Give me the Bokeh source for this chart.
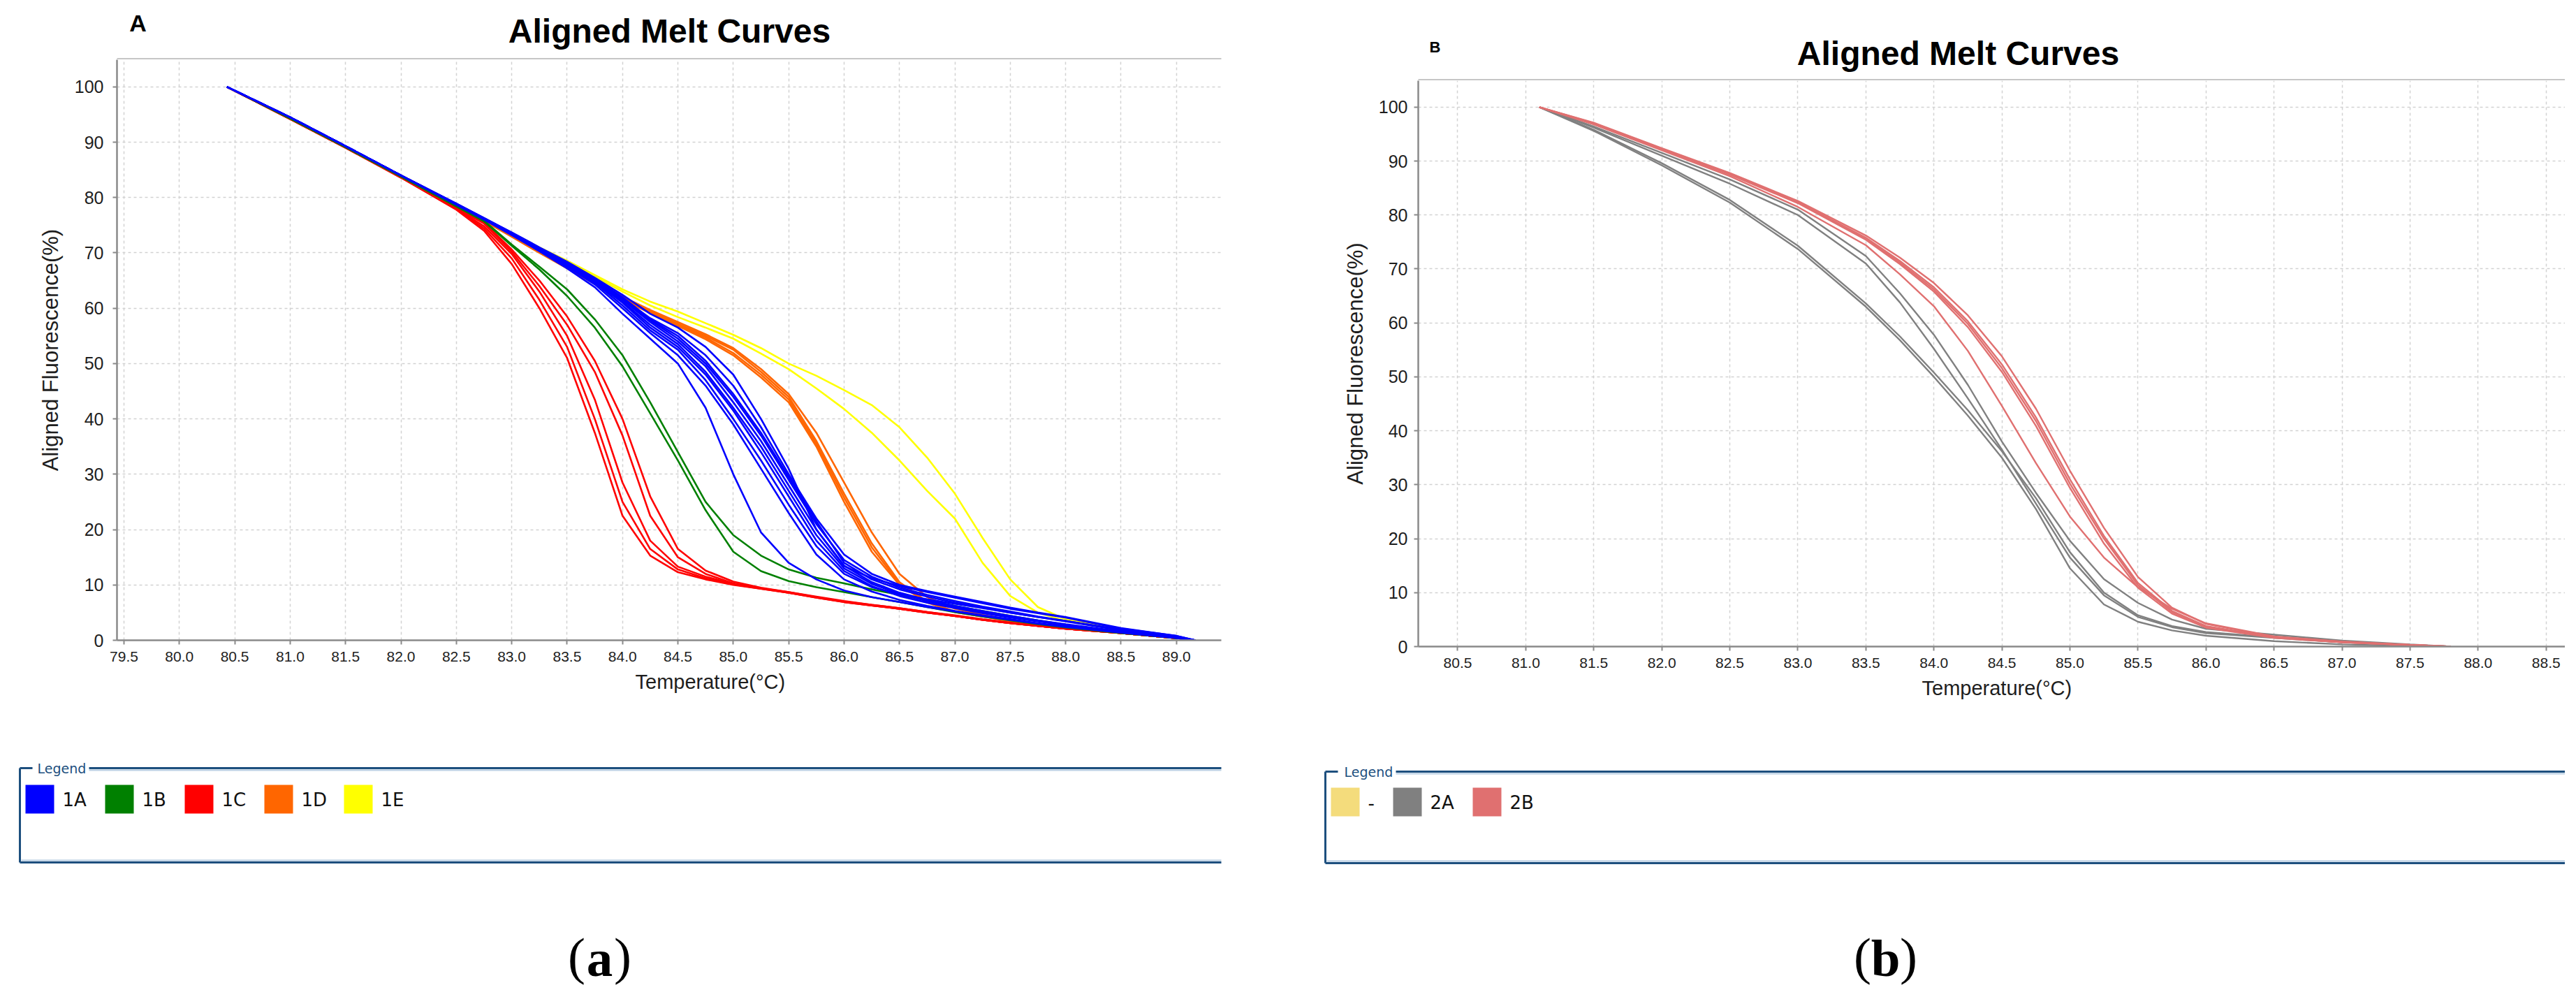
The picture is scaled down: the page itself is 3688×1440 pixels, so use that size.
from bokeh.plotting import figure
from bokeh.models import ColumnDataSource, Range1d, FixedTicker, PrintfTickFormatter, Title
from bokeh.layouts import row, column
from bokeh.core.properties import value
from bokeh.embed import file_html
from bokeh.resources import INLINE

# ---------------- panel A data (temperature grid + aligned fluorescence, %) ----------------
temp_a = [80.43, 81.0, 81.5, 82.0, 82.5, 82.75, 83.0, 83.25, 83.5, 83.75, 84.0, 84.25, 84.5, 84.75,
          85.0, 85.25, 85.5, 85.75, 86.0, 86.25, 86.5, 86.75, 87.0, 87.25, 87.5, 87.75, 88.0, 88.5,
          89.0, 89.17]

curves_1a = [
    [100, 94.5, 89.3, 84.0, 78.7, 76.0, 73.2, 70.3, 67.2, 63.8, 59.0, 54.5, 50.0, 42.0, 30.0, 19.5, 14.0, 11.0, 9.0, 7.8, 6.9, 6.0, 5.2, 4.4, 3.7, 3.0, 2.4, 1.4, 0.4, 0],
    [100, 94.5, 89.3, 84.0, 78.7, 76.1, 73.3, 70.5, 67.5, 64.3, 60.0, 55.5, 51.5, 46.0, 39.0, 31.0, 23.0, 15.5, 11.0, 8.8, 7.3, 6.2, 5.3, 4.5, 3.8, 3.1, 2.5, 1.4, 0.4, 0],
    [100, 94.5, 89.3, 84.0, 78.8, 76.2, 73.5, 70.7, 67.8, 64.7, 61.0, 56.5, 53.0, 48.0, 41.5, 34.0, 26.0, 18.0, 12.5, 9.8, 8.0, 6.8, 5.8, 4.9, 4.1, 3.4, 2.7, 1.5, 0.5, 0],
    [100, 94.5, 89.3, 84.0, 78.8, 76.2, 73.5, 70.8, 68.0, 65.0, 61.5, 57.5, 54.0, 49.5, 43.0, 36.0, 28.0, 20.0, 13.5, 10.5, 8.6, 7.3, 6.2, 5.3, 4.4, 3.6, 2.9, 1.6, 0.5, 0],
    [100, 94.5, 89.3, 84.0, 78.8, 76.3, 73.6, 70.9, 68.2, 65.3, 62.0, 58.0, 55.0, 50.5, 44.5, 37.5, 29.5, 21.5, 14.0, 11.0, 9.2, 7.9, 6.8, 5.9, 5.0, 4.2, 3.4, 1.8, 0.6, 0],
    [100, 94.5, 89.3, 84.0, 78.9, 76.3, 73.7, 71.0, 68.4, 65.5, 62.4, 59.0, 56.5, 53.0, 48.0, 40.0, 31.0, 20.0, 13.4, 11.2, 9.8, 8.7, 7.7, 6.7, 5.7, 4.9, 4.1, 2.1, 0.8, 0],
    [100, 94.5, 89.3, 84.0, 78.8, 76.2, 73.4, 70.6, 67.7, 64.6, 60.5, 56.0, 52.5, 47.0, 40.0, 32.5, 24.5, 17.0, 12.0, 9.6, 8.3, 7.4, 6.6, 5.8, 5.0, 4.2, 3.5, 1.9, 0.6, 0],
    [100, 94.5, 89.3, 84.0, 78.9, 76.3, 73.6, 70.9, 68.3, 65.4, 61.8, 58.2, 55.5, 51.5, 46.0, 38.5, 30.0, 22.0, 15.5, 12.0, 10.0, 8.9, 7.9, 6.9, 5.9, 5.0, 4.2, 2.2, 0.8, 0],
    [100, 94.5, 89.3, 84.0, 78.8, 76.2, 73.5, 70.7, 67.9, 64.9, 61.2, 57.0, 53.5, 48.5, 42.0, 35.0, 27.0, 19.0, 13.0, 10.2, 8.4, 7.1, 6.0, 5.1, 4.3, 3.5, 2.8, 1.5, 0.5, 0],
    [100, 94.5, 89.3, 84.0, 78.8, 76.2, 73.5, 70.8, 68.0, 65.1, 61.6, 57.8, 54.5, 50.0, 44.0, 37.0, 29.0, 21.0, 14.5, 11.5, 9.5, 8.2, 7.1, 6.1, 5.2, 4.3, 3.5, 1.9, 0.6, 0],
]
curves_1b = [
    [100, 94.3, 89.1, 83.8, 78.4, 75.8, 71.5, 67.5, 63.4, 58.0, 51.5, 43.0, 34.0, 25.0, 19.0, 15.3, 12.8, 11.3, 10.3, 9.2, 8.2, 7.2, 6.2, 5.3, 4.4, 3.6, 2.8, 1.5, 0.4, 0],
    [100, 94.3, 89.1, 83.8, 78.4, 75.7, 71.3, 67.0, 62.2, 56.5, 49.5, 41.0, 32.5, 23.5, 16.0, 12.5, 10.7, 9.6, 8.7, 7.8, 6.9, 6.0, 5.1, 4.3, 3.6, 2.9, 2.3, 1.3, 0.4, 0],
]
curves_1c = [
    [100, 94.2, 89.0, 83.6, 77.8, 74.0, 68.0, 60.0, 51.0, 37.5, 22.5, 15.3, 12.3, 11.0, 10.0, 9.3, 8.6, 7.7, 6.9, 6.3, 5.7, 5.0, 4.4, 3.7, 3.1, 2.6, 2.1, 1.3, 0.4, 0],
    [100, 94.2, 89.0, 83.6, 77.9, 74.4, 69.0, 61.5, 53.0, 40.0, 25.0, 16.5, 12.8, 11.2, 10.1, 9.3, 8.6, 7.7, 6.9, 6.3, 5.7, 5.0, 4.4, 3.7, 3.1, 2.6, 2.1, 1.3, 0.4, 0],
    [100, 94.2, 89.0, 83.7, 78.0, 74.8, 69.8, 63.0, 55.0, 43.5, 28.5, 18.0, 13.3, 11.5, 10.2, 9.4, 8.6, 7.8, 7.0, 6.3, 5.7, 5.0, 4.4, 3.7, 3.1, 2.6, 2.1, 1.3, 0.4, 0],
    [100, 94.2, 89.0, 83.7, 78.1, 75.3, 70.2, 64.0, 57.0, 48.5, 37.0, 22.5, 15.0, 12.0, 10.3, 9.4, 8.7, 7.8, 7.0, 6.4, 5.8, 5.1, 4.4, 3.7, 3.1, 2.6, 2.1, 1.3, 0.4, 0],
    [100, 94.2, 89.0, 83.7, 78.1, 75.5, 70.6, 65.0, 58.5, 50.5, 40.0, 26.0, 16.5, 12.6, 10.6, 9.5, 8.7, 7.9, 7.1, 6.4, 5.8, 5.1, 4.5, 3.8, 3.2, 2.6, 2.1, 1.3, 0.4, 0],
]
curves_1d = [
    [100, 94.3, 89.1, 83.8, 78.5, 75.8, 73.0, 70.2, 67.4, 64.6, 61.9, 59.5, 57.2, 55.0, 52.5, 48.5, 44.0, 36.0, 26.5, 17.5, 10.5, 7.0, 5.2, 4.4, 3.6, 2.9, 2.3, 1.3, 0.4, 0],
    [100, 94.3, 89.1, 83.8, 78.5, 75.8, 72.9, 70.0, 67.2, 64.4, 61.6, 59.1, 56.8, 54.4, 51.5, 47.5, 43.0, 35.0, 25.0, 16.0, 10.0, 6.8, 5.1, 4.3, 3.5, 2.9, 2.3, 1.3, 0.4, 0],
    [100, 94.3, 89.1, 83.8, 78.5, 75.9, 73.1, 70.3, 67.6, 64.8, 62.1, 59.7, 57.5, 55.3, 52.8, 49.0, 44.5, 37.5, 28.5, 19.5, 12.0, 7.8, 5.7, 4.6, 3.7, 3.0, 2.4, 1.3, 0.4, 0],
    [100, 94.3, 89.1, 83.8, 78.5, 75.8, 73.0, 70.1, 67.3, 64.5, 61.7, 59.3, 57.0, 54.7, 51.9, 48.0, 43.5, 35.5, 25.8, 16.8, 10.2, 6.9, 5.1, 4.3, 3.5, 2.9, 2.3, 1.3, 0.4, 0],
]
curves_1e = [
    [100, 94.3, 89.2, 84.0, 78.8, 76.2, 73.6, 71.0, 68.6, 66.0, 63.4, 61.2, 59.4, 57.3, 55.2, 52.8, 50.0, 47.8, 45.2, 42.5, 38.5, 33.0, 26.5, 18.5, 11.0, 6.0, 3.8, 1.9, 0.5, 0],
    [100, 94.3, 89.2, 84.0, 78.8, 76.2, 73.5, 70.9, 68.4, 65.7, 63.0, 60.5, 58.4, 56.5, 54.5, 51.8, 49.0, 45.5, 41.8, 37.5, 32.5, 27.0, 22.0, 14.0, 8.0, 5.0, 3.5, 1.8, 0.5, 0],
]

# ---------------- panel B data ----------------
temp_b = [81.1, 81.5, 82.0, 82.5, 83.0, 83.5, 83.75, 84.0, 84.25, 84.5, 84.75, 85.0, 85.25, 85.5,
          85.75, 86.0, 86.5, 87.0, 87.5, 87.8]

curves_2a = [
    [100, 96.4, 91.5, 86.6, 81.0, 72.4, 65.5, 57.8, 48.5, 38.0, 28.5, 19.6, 12.5, 8.1, 5.0, 3.3, 2.2, 1.1, 0.4, 0],
    [100, 96.2, 91.0, 85.8, 80.0, 71.0, 63.8, 55.2, 46.0, 36.5, 26.5, 16.5, 9.5, 5.5, 3.6, 2.5, 1.6, 0.8, 0.3, 0],
    [100, 95.6, 89.2, 82.3, 73.7, 63.0, 56.8, 50.0, 42.8, 35.0, 25.5, 14.5, 7.8, 4.6, 3.0, 2.0, 1.0, 0.4, 0.1, 0],
    [100, 95.8, 89.6, 82.8, 74.3, 63.6, 57.5, 50.8, 43.8, 36.2, 27.5, 17.5, 10.0, 5.8, 3.8, 2.7, 1.7, 0.9, 0.3, 0],
]
curves_2b = [
    [100, 97.0, 92.3, 87.7, 82.4, 75.8, 71.5, 66.6, 60.3, 52.3, 42.5, 31.0, 20.5, 11.8, 6.6, 3.8, 1.7, 0.8, 0.3, 0],
    [100, 96.9, 92.2, 87.5, 82.2, 75.4, 70.9, 65.8, 59.2, 50.9, 40.9, 29.4, 19.1, 10.9, 6.1, 3.5, 1.6, 0.8, 0.3, 0],
    [100, 97.1, 92.4, 87.8, 82.6, 76.2, 72.1, 67.4, 61.4, 53.8, 44.1, 32.6, 22.0, 12.9, 7.2, 4.2, 1.8, 0.9, 0.3, 0],
    [100, 97.0, 92.3, 87.6, 82.3, 75.6, 71.2, 66.2, 59.8, 51.6, 41.8, 30.2, 20.0, 11.4, 6.4, 3.7, 1.7, 0.8, 0.3, 0],
    [100, 96.8, 92.0, 87.2, 81.5, 74.4, 69.0, 63.1, 54.8, 44.6, 34.0, 24.1, 16.5, 11.0, 7.0, 4.3, 1.9, 0.9, 0.3, 0],
]

# ticks and legends
x_ticks_a = [79.5, 80.0, 80.5, 81.0, 81.5, 82.0, 82.5, 83.0, 83.5, 84.0, 84.5, 85.0, 85.5, 86.0,
             86.5, 87.0, 87.5, 88.0, 88.5, 89.0, 89.5]
x_ticks_b = [80.5, 81.0, 81.5, 82.0, 82.5, 83.0, 83.5, 84.0, 84.5, 85.0, 85.5, 86.0, 86.5, 87.0,
             87.5, 88.0, 88.5]
y_ticks = [0, 10, 20, 30, 40, 50, 60, 70, 80, 90, 100]

legend_a = ["1A", "1B", "1C", "1D", "1E"]
colors_a = ["#0000ff", "#008000", "#ff0000", "#ff6600", "#ffff00"]
legend_b = ["-", "2A", "2B"]
colors_b = ["#f4dc7c", "#808080", "#e07070"]

SANS = "Liberation Sans"
W, H_TOTAL, H_LEG = 1836, 1032, 388


def blank_fig(height):
    # figure used as a pixel canvas (1 unit = 1 px, y grows downward)
    p = figure(width=W, height=height, x_range=Range1d(0, W), y_range=Range1d(height, 0),
               x_axis_type=None, y_axis_type=None, output_backend="svg",
               toolbar_location=None, min_border=0, frame_align=False)
    p.outline_line_color = None
    p.grid.visible = False
    return p


def header(height, letter, letter_xy, letter_size, title_xy, frame_x):
    p = blank_fig(height)
    p.text(x=[letter_xy[0]], y=[letter_xy[1]], text=[letter], text_font=value(SANS),
           text_font_size=value(letter_size), text_font_style="bold", text_color="black",
           text_align="center", text_baseline="middle")
    p.text(x=[title_xy[0]], y=[title_xy[1]], text=["Aligned Melt Curves"], text_font=value(SANS),
           text_font_size=value("48px"), text_font_style="bold", text_color="black",
           text_align="center", text_baseline="middle")
    # light top border of the plot area
    p.segment(x0=[frame_x[0]], y0=[height - 1.3], x1=[frame_x[1]], y1=[height - 1.3],
              line_color="#c6c6c6", line_width=2.6)
    return p


def melt_panel(height, x_range, x_ticks, groups, borders, xlabel_offset, ylabel_standoff,
               ytick_standoff, lw):
    left, right, bottom = borders
    p = figure(width=W, height=height, x_range=Range1d(*x_range), y_range=Range1d(0, 104.9),
               output_backend="svg", toolbar_location=None, frame_align=False,
               min_border_left=left, min_border_right=right,
               min_border_top=0, min_border_bottom=bottom)
    p.outline_line_color = None
    p.background_fill_color = "white"
    p.border_fill_color = "white"

    # curves, one multi_line per sample group
    for temps, curves, color in groups:
        src = ColumnDataSource(dict(xs=[temps] * len(curves), ys=curves))
        p.multi_line("xs", "ys", source=src, line_color=color, line_width=lw)

    xax = p.xaxis[0]
    yax = p.yaxis[0]
    xax.ticker = FixedTicker(ticks=x_ticks)
    xax.formatter = PrintfTickFormatter(format="%.1f")
    yax.ticker = FixedTicker(ticks=y_ticks)
    for ax in (xax, yax):
        ax.axis_line_color = "#8a8a8a"
        ax.axis_line_width = 2.5
        ax.major_tick_line_color = "#8a8a8a"
        ax.major_tick_line_width = 2
        ax.major_tick_out = 6
        ax.major_tick_in = 0
        ax.minor_tick_line_color = None
        ax.major_label_text_font = SANS
        ax.major_label_text_color = "#1e1e1e"
    xax.major_label_text_font_size = "21px"
    xax.major_label_standoff = 10
    yax.major_label_text_font_size = "25px"
    yax.major_label_standoff = ytick_standoff
    yax.axis_label = "Aligned Fluorescence(%)"
    yax.axis_label_text_font = SANS
    yax.axis_label_text_font_size = "31px"
    yax.axis_label_text_font_style = "normal"
    yax.axis_label_text_color = "#1e1e1e"
    yax.axis_label_standoff = ylabel_standoff

    # dashed grid
    p.xgrid.ticker = FixedTicker(ticks=x_ticks)
    p.ygrid.ticker = FixedTicker(ticks=y_ticks)
    p.grid.grid_line_color = "#d2d2d2"
    p.grid.grid_line_width = 1.5
    p.grid.grid_line_dash = "4 4"

    p.add_layout(Title(text="Temperature(°C)", align="left", offset=xlabel_offset,
                       text_font=SANS, text_font_size="29px", text_font_style="normal",
                       text_color="#1e1e1e", standoff=16), "below")
    return p


def legend_panel(labels, colors, box, title_x, first_x, sw_top, letter, cap_x):
    bl, br, bt, bb = box
    p = blank_fig(H_LEG)

    # etched frame of the legend box
    dark, light = "#1d4f7e", "#b8cde2"
    p.segment(x0=[bl, title_x + 74, bl, bl], y0=[bt, bt, bt, bb],
              x1=[bl + 18, br, bl, br], y1=[bt, bt, bb, bb], line_color=dark, line_width=3)
    p.segment(x0=[title_x + 74, bl + 2], y0=[bt + 3, bb - 3], x1=[br, br], y1=[bt + 3, bb - 3],
              line_color=light, line_width=2)
    p.text(x=[title_x], y=[bt], text=["Legend"], text_font=value("DejaVu Sans"),
           text_font_size=value("19px"), text_color="#1d4f7e", text_baseline="middle")

    xs = []
    x = first_x
    for lab in labels:
        xs.append(x)
        x += 41 + 12 + (9 if lab == "-" else 34) + 27
    n = len(labels)
    p.quad(left=xs, right=[v + 41 for v in xs], top=[sw_top] * n, bottom=[sw_top + 41] * n,
           fill_color=colors, line_color=None)
    p.text(x=[v + 53 for v in xs], y=[sw_top + 21] * n, text=labels,
           text_font=value("DejaVu Sans"), text_font_size=value("26px"), text_color="#111111",
           text_baseline="middle")

    # figure caption "(a)" / "(b)" with bold letter
    cap_y = 336
    half = 21
    p.text(x=[cap_x - half - 12, cap_x + half + 12], y=[cap_y, cap_y], text=["(", ")"],
           text_font=value("Liberation Serif"), text_font_size=value("75px"),
           text_color="black", text_align="center", text_baseline="middle")
    p.text(x=[cap_x], y=[cap_y + 3], text=[letter], text_font=value("Liberation Serif"),
           text_font_size=value("75px"), text_font_style="bold", text_color="black",
           text_align="center", text_baseline="middle")
    return p


groups_a = [(temp_a, curves_1e, colors_a[4]), (temp_a, curves_1d, colors_a[3]),
            (temp_a, curves_1c, colors_a[2]), (temp_a, curves_1b, colors_a[1]),
            (temp_a, curves_1a, colors_a[0])]
groups_b = [(temp_b, curves_2a, colors_b[1]), (temp_b, curves_2b, colors_b[2])]

# panel A: frame from x 167 to 1748 (figure px), top at 85
head_a = header(85, "A", (197, 32), "34px", (958, 44), (167, 1748))
plot_a = melt_panel(H_TOTAL - 85, (79.437, 89.405), x_ticks_a, groups_a, (167, 88, 116), 742, 14, 13, 2.6)
leg_a = legend_panel(legend_a, colors_a, (28, 1748, 67, 202), 53, 36, 91, "a", 858)

# panel B: frame from x 194 to the right edge, top at 115
head_b = header(115, "B", (218, 67), "22px", (967, 76), (194, 1836))
plot_b = melt_panel(H_TOTAL - 115, (80.21, 88.64), x_ticks_b, groups_b, (194, 0, 107), 721, 13, 9, 2.4)
leg_b = legend_panel(legend_b, colors_b, (61, 1836, 72, 203), 88, 69, 95, "b", 863)

layout = row(column(head_a, plot_a, leg_a), column(head_b, plot_b, leg_b))

open("out.html", "w").write(file_html(layout, INLINE))
